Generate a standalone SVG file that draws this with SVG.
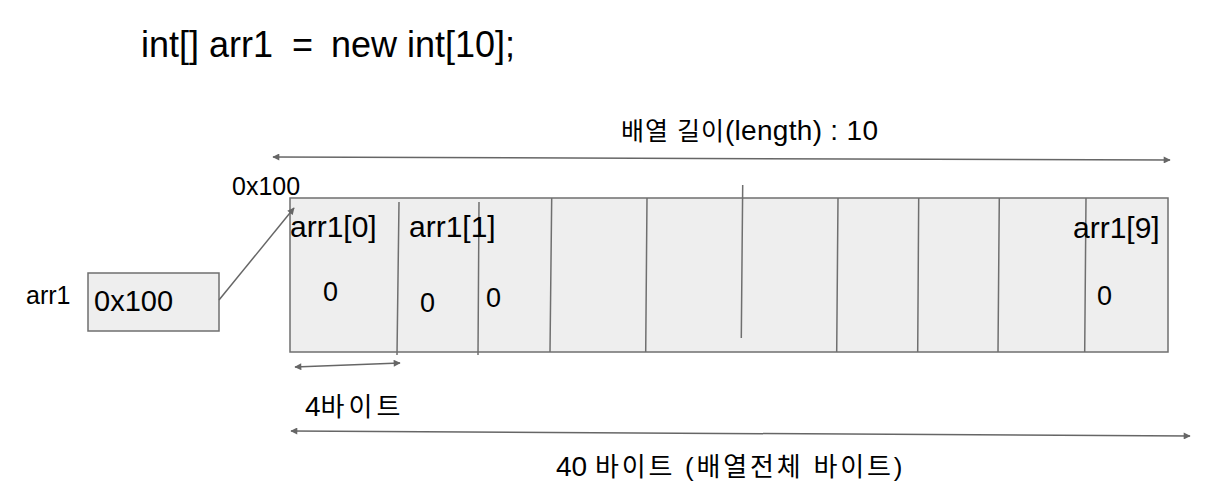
<svg xmlns="http://www.w3.org/2000/svg" width="1224" height="504" viewBox="0 0 1224 504">
<style>
text{font-family:"Liberation Sans",Arial,"Noto Sans CJK KR",sans-serif;fill:#000}
.box{fill:#eeeeee;stroke:#6f6f6f;stroke-width:1.5}
.div{stroke:#6f6f6f;stroke-width:1.5;fill:none}
.conn{stroke:#666;stroke-width:1.5;fill:none}
</style>
<defs>
<marker id="ah" viewBox="0 0 10 10" refX="9" refY="5" markerWidth="9" markerHeight="7" markerUnits="userSpaceOnUse" orient="auto-start-reverse">
<path d="M0,0 L10,5 L0,10 z" fill="#666"/>
</marker>
</defs>
<g id="title">
<text x="141" y="57" font-size="36">int[] arr1</text>
<text x="292" y="57" font-size="36">=</text>
<text x="331" y="57" font-size="36">new int[10];</text>
</g>
<g id="length-label"><text x="621" y="140" font-size="25" letter-spacing="1">배열 길이<tspan font-size="28" letter-spacing="0.3">(length) : 10</tspan></text></g>
<g id="pointer-var">
<text x="26" y="304" font-size="25">arr1</text>
<rect class="box" x="88" y="273" width="131" height="58"/>
<text x="94" y="311" font-size="29">0x100</text>
</g>
<g id="addr-label"><text x="232" y="195" font-size="25">0x100</text></g>
<g id="array">
<rect class="box" x="290" y="198" width="878" height="154"/>
<path class="div" d="M399,202 L397,355 M479,202 L478,355 M551.7,198 L550,352 M647,198 L645.7,352 M742.7,185 L741.3,338 M838,198 L836.7,352 M918.7,198 L917.7,352 M999.3,198 L998,352 M1086,198 L1084.7,352"/>
<text x="290" y="237" font-size="30">arr1[0]</text>
<text x="409" y="237" font-size="30">arr1[1]</text>
<text x="1073" y="238" font-size="30">arr1[9]</text>
<text x="323" y="301" font-size="27">0</text>
<text x="420" y="312" font-size="27">0</text>
<text x="486" y="307" font-size="27">0</text>
<text x="1097" y="305" font-size="27">0</text>
</g>
<g id="byte-labels">
<text x="305" y="416" font-size="28">4<tspan font-size="26" letter-spacing="4">바이트</tspan></text>
<text x="556" y="476" font-size="28">40 <tspan font-size="26" letter-spacing="2.8">바이트 (배열전체 바이트)</tspan></text>
</g>
<g id="connectors">
<line class="conn" x1="273" y1="157" x2="1170" y2="160" marker-start="url(#ah)" marker-end="url(#ah)"/>
<line class="conn" x1="219" y1="300" x2="294" y2="208" marker-end="url(#ah)"/>
<line class="conn" x1="295" y1="367" x2="400" y2="363" marker-start="url(#ah)" marker-end="url(#ah)"/>
<line class="conn" x1="291" y1="431" x2="1190" y2="436" marker-start="url(#ah)" marker-end="url(#ah)"/>
</g>
</svg>
